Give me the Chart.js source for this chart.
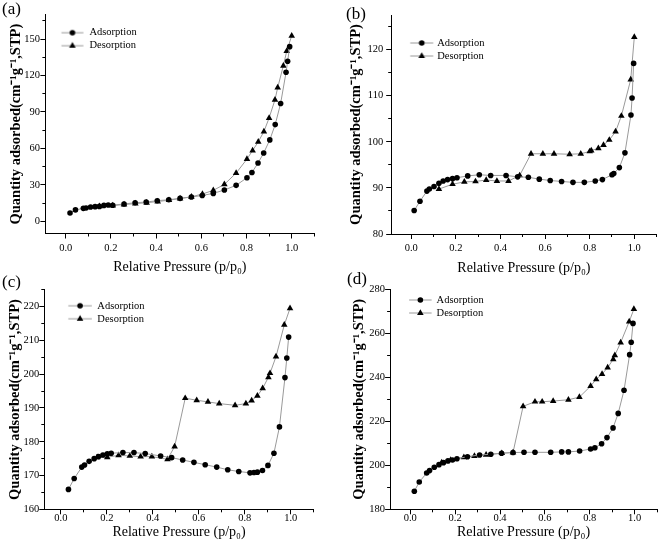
<!DOCTYPE html>
<html><head><meta charset="utf-8">
<script src="https://cdn.jsdelivr.net/npm/chart.js@4.4.1/dist/chart.umd.min.js"></script>
<style>
html,body{margin:0;padding:0;background:#fff;}
#wrap{position:relative;width:661px;height:547px;overflow:hidden;background:#fff;}
#wrap canvas{position:absolute;}
.lab{position:absolute;font-family:"Liberation Serif","Times New Roman",serif;font-size:17px;line-height:1;color:#000;}
</style></head><body>
<div id="wrap">
<canvas id="ca" width="340" height="282" style="left:0px;top:0px"></canvas>
<canvas id="cb" width="331" height="282" style="left:330px;top:0px"></canvas>
<canvas id="cc" width="340" height="285" style="left:0px;top:262px"></canvas>
<canvas id="cd" width="331" height="285" style="left:330px;top:262px"></canvas>
<div class="lab" style="left:2px;top:0px">(a)</div>
<div class="lab" style="left:346px;top:5px">(b)</div>
<div class="lab" style="left:2px;top:273px">(c)</div>
<div class="lab" style="left:347px;top:270px">(d)</div>
</div>
<script>
// ---------------- DATA ----------------
const seriesNames = ['Adsorption', 'Desorption'];
const xTitle = 'Relative Pressure (p/p\u2080)';
const yTitle = 'Quantity adsorbed(cm\u207B\u00B9g\u207B\u00B9,STP)';

const xMajorTicks = [0.0, 0.2, 0.4, 0.6, 0.8, 1.0];
const xMinorTicks = [0.1, 0.3, 0.5, 0.7, 0.9, 1.1];

// panel (a)
const adsX_a = [0.019, 0.043, 0.078, 0.09, 0.11, 0.13, 0.149, 0.169, 0.188, 0.208, 0.258, 0.307, 0.356, 0.405, 0.456, 0.506, 0.556, 0.604, 0.653, 0.702, 0.754, 0.802, 0.824, 0.851, 0.876, 0.903, 0.927, 0.951, 0.975, 0.982, 0.991];
const adsY_a = [6.9, 9.4, 10.7, 11.0, 11.8, 12.1, 12.3, 13.1, 13.4, 13.3, 14.3, 15.3, 15.9, 17.0, 17.8, 18.9, 20.0, 21.3, 23.0, 25.8, 29.6, 35.9, 40.2, 48.0, 56.2, 67.0, 79.6, 97.0, 122.6, 131.7, 143.7];
const desX_a = [1.0, 0.978, 0.963, 0.938, 0.926, 0.90, 0.877, 0.852, 0.827, 0.802, 0.754, 0.702, 0.653, 0.605, 0.556, 0.506, 0.457, 0.407, 0.358, 0.308, 0.258, 0.208, 0.149];
const desY_a = [152.7, 140.0, 128.0, 110.0, 100.0, 85.0, 73.9, 65.4, 58.3, 51.2, 39.7, 30.4, 25.5, 22.5, 20.2, 18.8, 17.4, 16.3, 15.3, 14.6, 13.8, 13.0, 12.3];
const yMajor_a = [0, 30, 60, 90, 120, 150];
const yMinor_a = [15, 45, 75, 105, 135, 165];

// panel (b)
const adsX_b = [0.013, 0.039, 0.07, 0.081, 0.102, 0.124, 0.143, 0.163, 0.185, 0.205, 0.253, 0.305, 0.356, 0.425, 0.477, 0.525, 0.574, 0.623, 0.674, 0.725, 0.776, 0.825, 0.857, 0.90, 0.908, 0.933, 0.958, 0.985, 0.99, 0.997];
const adsY_b = [85.1, 87.1, 89.3, 89.75, 90.3, 91.0, 91.5, 91.8, 92.0, 92.2, 92.6, 92.85, 92.7, 92.7, 92.4, 92.3, 91.9, 91.6, 91.4, 91.2, 91.2, 91.5, 91.8, 92.85, 93.1, 94.4, 97.6, 105.8, 109.5, 117.0];
const desX_b = [1.0, 0.984, 0.942, 0.916, 0.888, 0.862, 0.839, 0.807, 0.80, 0.76, 0.71, 0.64, 0.59, 0.537, 0.486, 0.436, 0.384, 0.336, 0.288, 0.238, 0.185, 0.124];
const desY_b = [122.7, 113.5, 105.6, 102.2, 100.4, 99.3, 98.6, 98.1, 97.9, 97.4, 97.3, 97.4, 97.4, 97.4, 92.7, 91.5, 91.5, 91.7, 91.4, 91.3, 90.8, 89.75];
const yMajor_b = [80, 90, 100, 110, 120];
const yMinor_b = [85, 95, 105, 115, 125];

// panel (c)
const adsX_c = [0.033, 0.058, 0.091, 0.103, 0.123, 0.145, 0.164, 0.183, 0.202, 0.219, 0.27, 0.318, 0.367, 0.434, 0.482, 0.53, 0.579, 0.628, 0.678, 0.726, 0.774, 0.823, 0.84, 0.855, 0.877, 0.901, 0.927, 0.951, 0.975, 0.983, 0.991];
const adsY_c = [165.9, 169.1, 172.5, 173.1, 174.2, 175.0, 175.6, 176.1, 176.4, 176.6, 176.8, 176.8, 176.5, 175.8, 175.3, 174.6, 173.9, 173.2, 172.5, 171.7, 171.2, 170.8, 170.9, 171.0, 171.5, 173.0, 176.6, 184.4, 199.0, 204.8, 211.0];
const desX_c = [0.997, 0.972, 0.936, 0.91, 0.903, 0.878, 0.855, 0.83, 0.805, 0.758, 0.689, 0.64, 0.591, 0.541, 0.495, 0.464, 0.396, 0.347, 0.30, 0.251, 0.202, 0.158];
const desY_c = [219.5, 214.6, 205.2, 200.3, 199.1, 195.8, 193.6, 192.2, 191.3, 190.8, 191.3, 191.8, 192.3, 192.9, 178.6, 174.8, 175.6, 175.6, 175.8, 176.0, 175.4, 175.4];
const yMajor_c = [160, 170, 180, 190, 200, 210, 220];
const yMinor_c = [165, 175, 185, 195, 205, 215, 225];

// panel (d)
const adsX_d = [0.018, 0.04, 0.073, 0.086, 0.107, 0.128, 0.148, 0.168, 0.188, 0.208, 0.255, 0.309, 0.359, 0.407, 0.458, 0.507, 0.556, 0.626, 0.675, 0.705, 0.755, 0.804, 0.823, 0.853, 0.877, 0.904, 0.927, 0.953, 0.978, 0.985, 0.993];
const adsY_d = [188.2, 192.4, 196.5, 197.6, 199.1, 200.3, 201.2, 202.0, 202.4, 203.0, 203.9, 204.7, 205.0, 205.5, 205.8, 205.9, 205.9, 205.9, 206.1, 206.1, 206.5, 207.4, 208.0, 209.8, 212.6, 217.0, 223.6, 234.1, 250.3, 255.9, 264.5];
const desX_d = [0.997, 0.976, 0.938, 0.912, 0.905, 0.88, 0.855, 0.829, 0.804, 0.754, 0.705, 0.637, 0.588, 0.556, 0.503, 0.458, 0.408, 0.338, 0.286, 0.239, 0.18, 0.14];
const desY_d = [271.0, 265.3, 255.8, 250.0, 248.2, 244.4, 241.5, 239.1, 236.0, 231.0, 229.8, 229.2, 228.9, 228.9, 226.8, 205.8, 205.5, 204.8, 204.2, 203.6, 202.4, 201.2];
const yMajor_d = [180, 200, 220, 240, 260, 280];
const yMinor_d = [190, 210, 230, 250, 270];

// ---------------- STYLE / LAYOUT ----------------
const FONT = '"Liberation Serif", "Times New Roman", serif';
const LINE_COLOR = '#9a9a9a';
const TICK_FONT = 10.5, LEG_FONT = 10.5, XT_FONT = 14, YT_FONT = 14.5;
const LEG_PAD = 2.5;

function legendImage(style, g) {
  const half = LEG_FONT / 2;
  const bw = g.legTx - LEG_PAD - half;
  const c = LEG_PAD + bw / 2;
  const W = Math.ceil(2 * Math.max(g.legLe - c, c - g.legLs) + 2);
  const H = 12;
  const left = c - W / 2;
  const cv = document.createElement('canvas');
  cv.width = W; cv.height = H;
  const ctx = cv.getContext('2d');
  ctx.strokeStyle = LINE_COLOR; ctx.lineWidth = 1;
  ctx.beginPath(); ctx.moveTo(g.legLs - left, H / 2); ctx.lineTo(g.legLe - left, H / 2); ctx.stroke();
  ctx.fillStyle = '#000'; ctx.strokeStyle = '#000';
  Chart.helpers.drawPoint(ctx, {pointStyle: style, radius: style === 'circle' ? 2.8 : 3.8, borderWidth: 0, rotation: 0}, (g.legLs + g.legLe) / 2 - left, H / 2);
  return {img: cv, bw: bw};
}

// g values are page coordinates; the canvas sits at (ox, oy) with size (cw, ch)
function makePanel(id, g, adsX, adsY, desX, desY, yMajor, yMinor) {
  const cvs = document.getElementById(id);
  const ox = parseFloat(cvs.style.left), oy = parseFloat(cvs.style.top);
  const cw = cvs.width, ch = cvs.height;
  const yBoxLeft = g.yTitleCX - YT_FONT * 1.2 / 2;
  const wY = g.L - yBoxLeft;
  const hX = g.xTitleCY + XT_FONT * 1.2 / 2 - g.B;
  const li0 = legendImage('circle', g), li1 = legendImage('triangle', g);
  const imgs = [li0.img, li1.img];
  const titleH = (g.T - oy) + g.legDy - LEG_PAD - LEG_FONT / 2;
  const mk = (xs, ys) => xs.map((x, i) => ({x: x, y: ys[i]}));
  const ds = (label, xs, ys, style, r) => ({
    label: label, data: mk(xs, ys), showLine: true, borderColor: LINE_COLOR, borderWidth: 1,
    pointStyle: style, pointRadius: r, pointBackgroundColor: '#000', pointBorderColor: '#000', pointBorderWidth: 0,
    tension: 0, clip: 8
  });
  new Chart(cvs, {
    type: 'scatter',
    data: {datasets: [
      ds(seriesNames[0], adsX, adsY, 'circle', 2.8),
      ds(seriesNames[1], desX, desY, 'triangle', 3.8)
    ]},
    options: {
      responsive: false, animation: false, events: [],
      layout: {padding: {left: yBoxLeft - ox, top: g.T - oy, right: ox + cw - g.R, bottom: oy + ch - g.B - hX}},
      plugins: {
        tooltip: {enabled: false},
        legend: {
          position: 'chartArea', align: 'start',
          title: {display: true, text: '', font: {size: 1}, padding: {top: titleH - 1.2, bottom: 0}},
          labels: {
            usePointStyle: true, pointStyleWidth: li0.bw, padding: LEG_PAD, color: '#000',
            font: {family: FONT, size: LEG_FONT},
            generateLabels: (chart) => {
              const items = Chart.defaults.plugins.legend.labels.generateLabels(chart);
              items.forEach((it, i) => { it.pointStyle = imgs[i]; });
              return items;
            }
          }
        }
      },
      scales: {
        x: {
          type: 'linear', position: 'bottom', weight: 1, min: g.xMin, max: g.xMax,
          afterBuildTicks: s => { s.ticks = xMajorTicks.map(v => ({value: v})); },
          afterFit: s => { s.height = hX; },
          border: {display: true, color: '#000', width: 1},
          grid: {drawOnChartArea: false, drawTicks: true, tickLength: 5, tickColor: '#000', tickWidth: 1},
          ticks: {autoSkip: false, maxRotation: 0, padding: g.xTickPad, color: '#000', font: {family: FONT, size: TICK_FONT},
                  callback: v => Number(v).toFixed(1)},
          title: {display: true, text: xTitle, color: '#000', font: {family: FONT, size: XT_FONT}, padding: 0}
        },
        x2: {
          type: 'linear', position: 'bottom', weight: 0, min: g.xMin, max: g.xMax,
          afterBuildTicks: s => { s.ticks = xMinorTicks.map(v => ({value: v})); },
          afterFit: s => { s.height = 0; },
          border: {display: false},
          grid: {drawOnChartArea: false, drawTicks: true, tickLength: 3, tickColor: '#000', tickWidth: 1},
          ticks: {display: false}
        },
        y: {
          type: 'linear', position: 'left', weight: 1, min: g.yMin, max: g.yMax,
          afterBuildTicks: s => { s.ticks = yMajor.map(v => ({value: v})); },
          afterFit: s => { s.width = wY; },
          border: {display: true, color: '#000', width: 1},
          grid: {drawOnChartArea: false, drawTicks: true, tickLength: 5, tickColor: '#000', tickWidth: 1},
          ticks: {autoSkip: false, padding: g.yTickPad, color: '#000', font: {family: FONT, size: TICK_FONT},
                  callback: v => String(v)},
          title: {display: true, text: yTitle, color: '#000', font: {family: FONT, size: YT_FONT, weight: 'bold'}, padding: 0}
        },
        y2: {
          type: 'linear', position: 'left', weight: 0, min: g.yMin, max: g.yMax,
          afterBuildTicks: s => { s.ticks = yMinor.map(v => ({value: v})); },
          afterFit: s => { s.width = 0; },
          border: {display: false},
          grid: {drawOnChartArea: false, drawTicks: true, tickLength: 3, tickColor: '#000', tickWidth: 1},
          ticks: {display: false}
        }
      }
    }
  });
}

makePanel('ca', {L: 45.4, R: 314.3, T: 14.7, B: 233.5, xMin: -0.09, xMax: 1.1, yMin: -10, yMax: 170,
  yTitleCX: 16.5, xTitleCY: 267.3, xTickPad: 3.5, yTickPad: 0.5, legLs: 16, legLe: 38, legTx: 44, legDy: 18},
  adsX_a, adsY_a, desX_a, desY_a, yMajor_a, yMinor_a);
makePanel('cb', {L: 391.2, R: 656.6, T: 15, B: 234, xMin: -0.09, xMax: 1.1, yMin: 80, yMax: 127.5,
  yTitleCX: 356, xTitleCY: 268, xTickPad: 3, yTickPad: 3, legLs: 19, legLe: 42, legTx: 46, legDy: 28},
  adsX_b, adsY_b, desX_b, desY_b, yMajor_b, yMinor_b);
makePanel('cc', {L: 44.3, R: 313.7, T: 289.8, B: 509.3, xMin: -0.072, xMax: 1.1, yMin: 160, yMax: 225,
  yTitleCX: 15.5, xTitleCY: 532.3, xTickPad: -2, yTickPad: 0, legLs: 24, legLe: 47.5, legTx: 53, legDy: 16},
  adsX_c, adsY_c, desX_c, desY_c, yMajor_c, yMinor_c);
makePanel('cd', {L: 390.1, R: 657.5, T: 289.3, B: 509.3, xMin: -0.09, xMax: 1.1, yMin: 180, yMax: 280,
  yTitleCX: 359, xTitleCY: 532.3, xTickPad: -2, yTickPad: 0, legLs: 19, legLe: 41.5, legTx: 46.5, legDy: 10.7},
  adsX_d, adsY_d, desX_d, desY_d, yMajor_d, yMinor_d);
</script>
</body></html>
